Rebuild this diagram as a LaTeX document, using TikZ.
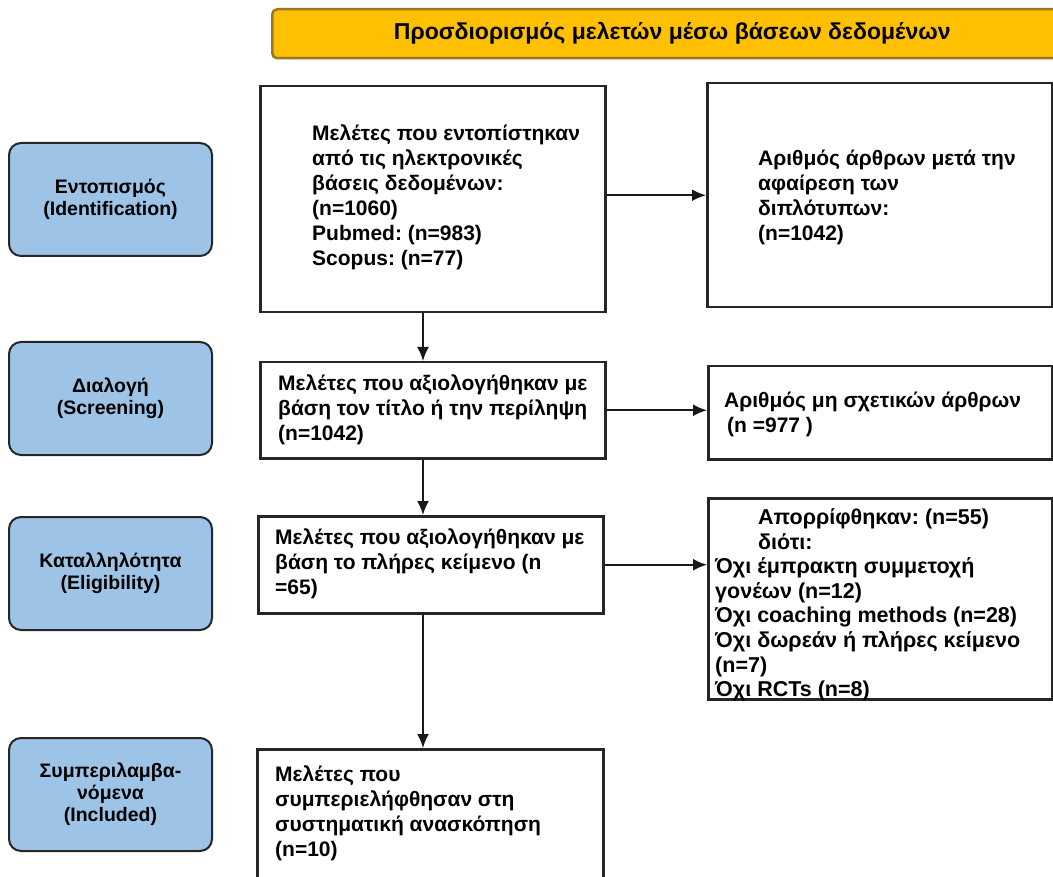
\documentclass[tikz,border=0pt]{standalone}
\usepackage{fontspec}
\setmainfont{Liberation Sans}
\usetikzlibrary{arrows.meta,positioning}
\definecolor{stageblue}{RGB}{157,195,230}
\definecolor{titlegold}{RGB}{255,192,0}
\definecolor{titleedge}{RGB}{150,120,40}
\frenchspacing

\begin{document}
\begin{tikzpicture}
	[x=1pt,y=-1pt,
		stagebox/.style={rectangle, rounded corners=12pt, draw=black!85, fill=stageblue, line width=2pt, minimum width=203pt, minimum height=113pt, align=center, font=\bfseries\fontsize{19.5}{22}\selectfont},
		flowbox/.style={rectangle, draw=black!85, line width=2.5pt, anchor=north west, inner sep=0pt},
		flowtext/.style={anchor=west, align=left, inner sep=0pt, font=\bfseries\fontsize{21}{25}\selectfont},
		titlebox/.style={rectangle, rounded corners=5pt, draw=titleedge, fill=titlegold, line width=2.5pt, anchor=north west, minimum width=800pt, minimum height=49pt, font=\bfseries\fontsize{23}{25}\selectfont},
		arr/.style={-{Latex[length=14pt,width=12pt]}, line width=2pt, draw=black!90},
	]
	
	\useasboundingbox (0,0) rectangle (1053,877);
	\clip (0,0) rectangle (1053,877);
	
	% title bar
	\node[titlebox] (title) at (271,8) {Προσδιορισμός μελετών μέσω βάσεων δεδομένων};
	
	% stages on the left
	\node[stagebox] (ident) at (110.5,199.5) {Εντοπισμός\\(Identification)};
	\node[stagebox] (screen) at (110.5,398.5) {Διαλογή\\(Screening)};
	\node[stagebox] (elig) at (110.5,573.5) {Καταλληλότητα\\(Eligibility)};
	\node[stagebox] (incl) at (110.5,794.5) {Συμπεριλαμβα-\\νόμενα\\(Included)};
	
	% flow boxes
	\node[flowbox, minimum width=345pt, minimum height=226pt] (found) at (259,85) {};
	\node[flowbox, minimum width=345pt, minimum height=224pt] (nodup) at (706,82) {};
	\node[flowbox, minimum width=345pt, minimum height=96pt] (titleabs) at (259,361) {};
	\node[flowbox, minimum width=344pt, minimum height=93pt] (irrel) at (707,365) {};
	\node[flowbox, minimum width=345pt, minimum height=97pt] (fulltext) at (257,515) {};
	\node[flowbox, minimum width=344pt, minimum height=201pt] (rejected) at (707,497) {};
	\node[flowbox, minimum width=346pt, minimum height=200pt] (included) at (256,748) {};
	
	\node[flowtext] (foundtxt) at (312,197) {Μελέτες που εντοπίστηκαν\\από τις ηλεκτρονικές\\βάσεις δεδομένων:\\(n=1060)\\Pubmed: (n=983)\\Scopus: (n=77)};
	\node[flowtext] (noduptxt) at (758,197) {Αριθμός άρθρων μετά την\\αφαίρεση των\\διπλότυπων:\\(n=1042)};
	\node[flowtext] (titleabstxt) at (278,410) {Μελέτες που αξιολογήθηκαν με\\βάση τον τίτλο ή την περίληψη\\(n=1042)};
	\node[flowtext] (irreltxt) at (724,414) {Αριθμός μη σχετικών άρθρων\\\hspace*{3pt}(n =977 )};
	\node[flowtext] (fulltexttxt) at (275,564) {Μελέτες που αξιολογήθηκαν με\\βάση το πλήρες κείμενο (n\\=65)};
	\node[flowtext, font=\bfseries\fontsize{21.5}{24.6}\selectfont] (rejectedtxt) at (715,605) {\hspace*{43pt}Απορρίφθηκαν: (n=55)\\\hspace*{43pt}διότι:\\Όχι έμπρακτη συμμετοχή\\γονέων (n=12)\\Όχι coaching methods (n=28)\\Όχι δωρεάν ή πλήρες κείμενο\\(n=7)\\Όχι RCTs (n=8)};
	\node[flowtext] (includedtxt) at (275,813) {Μελέτες που\\συμπεριελήφθησαν στη\\συστηματική ανασκόπηση\\(n=10)};
	
	% connectors
	\coordinate (spine) at (423,0);
	\draw[arr] (found.south -| spine) -- (titleabs.north -| spine);
	\draw[arr] (titleabs.south -| spine) -- (fulltext.north -| spine);
	\draw[arr] (fulltext.south -| spine) -- (included.north -| spine);
	\draw[arr] (found.east |- nodup.west) -- (nodup.west);
	\draw[arr] (titleabs.east) -- (titleabs.east -| irrel.west);
	\draw[arr] (fulltext.east) -- (fulltext.east -| rejected.west);
	
\end{tikzpicture}
\end{document}
